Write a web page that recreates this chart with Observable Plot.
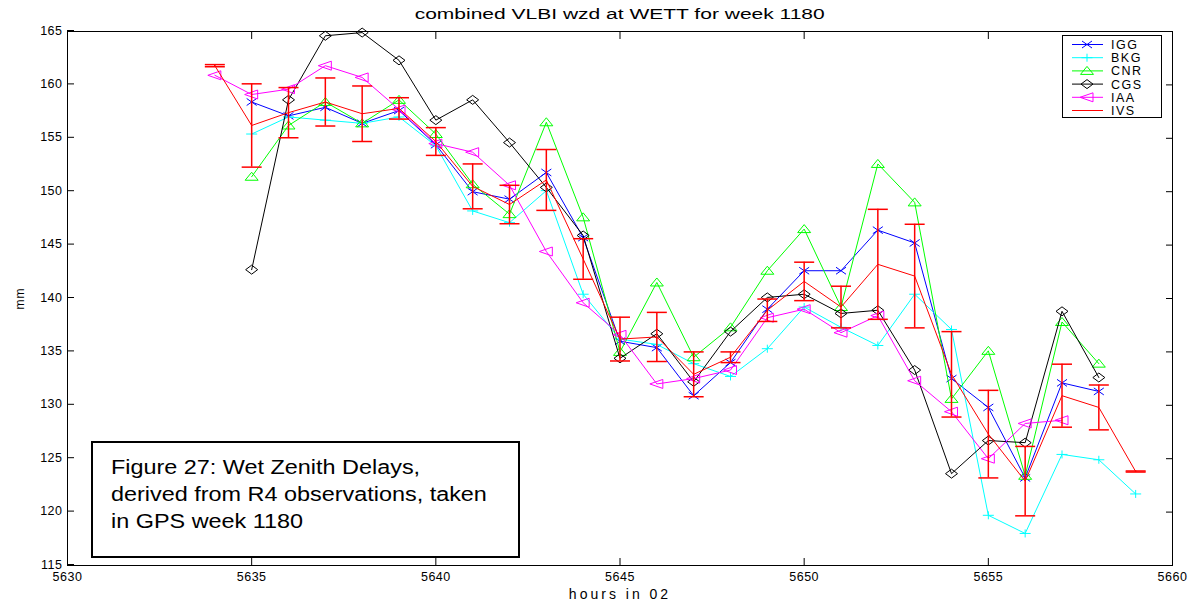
<!DOCTYPE html>
<html><head><meta charset="utf-8">
<script src="https://cdn.jsdelivr.net/npm/d3@7"></script>
<script src="https://cdn.jsdelivr.net/npm/@observablehq/plot@0.6"></script>
<style>
body{margin:0;background:#fff;font-family:"Liberation Sans",Arial,sans-serif;}
#wrap{position:relative;width:1192px;height:601px;overflow:hidden;}
#title{position:absolute;left:67px;width:1105px;top:6px;text-align:center;font-size:14px;color:#000;}
#title span{display:inline-block;transform:scaleX(1.5);transform-origin:center;}
#caption{position:absolute;left:91px;top:441px;width:407px;height:102px;border:2px solid #000;background:#fff;padding:11px 0 0 18px;color:#000;}
#caption div{font-size:19.5px;line-height:27px;transform:scaleX(1.2);transform-origin:left top;white-space:nowrap;}
#legend{position:absolute;left:1062px;top:35px;}
</style>
</head><body>
<div id="wrap">
<div id="plot"></div>
<div id="title"><span>combined VLBI wzd at WETT for week 1180</span></div>
<div id="caption"><div>Figure 27: Wet Zenith Delays,<br>derived from R4 observations, taken<br>in GPS week 1180</div></div>
<div id="legend"></div>
</div>
<script>
// ---- data ----
const hours = [5634,5635,5636,5637,5638,5639,5640,5641,5642,5643,5644,5645,5646,5647,5648,5649,5650,5651,5652,5653,5654,5655,5656,5657,5658,5659];
const igg = [null,158.4,157.1,157.9,156.4,157.6,154.4,150.0,149.3,151.8,145.7,136.0,135.4,130.9,134.0,139.0,142.6,142.6,146.4,145.2,132.5,129.8,123.2,132.1,131.3,null];
const bkg = [null,155.4,157.0,156.7,156.4,157.0,154.3,148.2,147.1,150.1,140.4,136.2,135.7,133.9,132.7,135.3,139.2,137.3,135.6,140.4,137.1,119.7,118.0,125.4,124.9,121.7];
const cnr = [null,151.4,156.2,158.4,156.4,158.6,155.4,150.7,147.9,156.5,147.6,135.0,141.5,134.5,137.3,142.6,146.5,139.2,152.6,149.0,130.6,135.1,123.4,137.8,133.9,null];
const cgs = [null,142.7,158.6,164.6,164.9,162.3,156.7,158.6,154.6,150.4,145.9,134.4,136.7,132.2,136.9,140.1,140.4,138.6,138.9,133.3,123.6,126.7,126.5,138.8,132.6,null];
const iaa = [160.9,159.1,159.6,161.8,160.7,157.7,154.5,153.7,150.6,144.4,139.6,136.6,132.0,132.5,133.3,138.2,139.0,136.8,138.4,132.3,129.4,125.0,128.3,128.6,null,null];
const ivs = [161.8,156.2,157.4,158.4,157.3,157.8,154.7,150.5,148.8,151.1,143.7,136.2,136.4,132.9,134.5,138.9,141.6,139.2,143.2,142.1,132.9,127.3,122.9,130.9,129.8,123.8];
const ivsErr = [0.1,3.9,2.35,2.25,2.6,1.0,1.3,2.1,1.8,2.85,1.9,2.05,2.3,2.1,0.5,1.05,1.8,1.95,5.15,4.85,4.0,4.1,3.25,2.95,2.1,0.05];
const seriesNames = ["IGG","BKG","CNR","CGS","IAA","IVS"];
const xTicks = [5630,5635,5640,5645,5650,5655,5660];
const yTicks = [115,120,125,130,135,140,145,150,155,160,165];

// ---- marker shapes (slightly wide, as in the reference) ----
const mk = fn => ({draw(ctx, size){ fn(ctx, Math.sqrt(size/Math.PI)/4); }});
const symTimes = mk((c,k)=>{ c.moveTo(-5*k,-3.5*k); c.lineTo(5*k,3.5*k); c.moveTo(-5*k,3.5*k); c.lineTo(5*k,-3.5*k); });
const symPlus = mk((c,k)=>{ c.moveTo(-5.5*k,0); c.lineTo(5.5*k,0); c.moveTo(0,-4*k); c.lineTo(0,4*k); });
const symTriUp = mk((c,k)=>{ c.moveTo(0,-4.5*k); c.lineTo(6.5*k,3.5*k); c.lineTo(-6.5*k,3.5*k); c.closePath(); });
const symDiamond = mk((c,k)=>{ c.moveTo(0,-4.5*k); c.lineTo(6*k,0); c.lineTo(0,4.5*k); c.lineTo(-6*k,0); c.closePath(); });
const symTriLeft = mk((c,k)=>{ c.moveTo(-7*k,0); c.lineTo(6*k,-4.5*k); c.lineTo(6*k,4.5*k); c.closePath(); });
const capSym = {draw(ctx, size){ const s = Math.sqrt(size/Math.PI); ctx.moveTo(-s,0); ctx.lineTo(s,0); }};
const styles = {
  IGG:{color:"#0000ff", symbol:symTimes},
  BKG:{color:"#00ffff", symbol:symPlus},
  CNR:{color:"#00ff00", symbol:symTriUp},
  CGS:{color:"#000000", symbol:symDiamond},
  IAA:{color:"#ff00ff", symbol:symTriLeft},
  IVS:{color:"#ff0000", symbol:null}
};
const valuesBy = {IGG:igg, BKG:bkg, CNR:cnr, CGS:cgs, IAA:iaa, IVS:ivs};
const rows = name => hours.map((h,i)=>({hour:h, value:valuesBy[name][i], err: name==="IVS" ? ivsErr[i] : 0})).filter(d=>d.value!=null);

const marks = [];
for (const name of seriesNames) {
  const st = styles[name];
  const data = rows(name);
  if (name === "IVS") {
    marks.push(Plot.ruleX(data, {x:"hour", y1:d=>d.value-d.err, y2:d=>d.value+d.err, stroke:st.color, strokeWidth:1.5}));
    marks.push(Plot.dot(data, {x:"hour", y:d=>d.value+d.err, symbol:capSym, r:10, stroke:st.color, strokeWidth:1.5, fill:"none"}));
    marks.push(Plot.dot(data, {x:"hour", y:d=>d.value-d.err, symbol:capSym, r:10, stroke:st.color, strokeWidth:1.5, fill:"none"}));
    marks.push(Plot.line(data, {x:"hour", y:"value", stroke:st.color, strokeWidth:1}));
  } else {
    marks.push(Plot.line(data, {x:"hour", y:"value", stroke:st.color, strokeWidth:1}));
    marks.push(Plot.dot(data, {x:"hour", y:"value", symbol:st.symbol, r:4, stroke:st.color, strokeWidth:1, fill:"none"}));
  }
}

const fmt = d => String(d);
const chart = Plot.plot({
  width:1192, height:601,
  marginLeft:67, marginRight:20, marginTop:31, marginBottom:36,
  style:{fontFamily:"'Liberation Sans', Arial, sans-serif", fontSize:"12px", background:"#fff", color:"#000"},
  x:{domain:[5630,5660]},
  y:{domain:[115,165]},
  marks:[
    ...marks,
    Plot.frame({stroke:"#000", strokeWidth:1}),
    Plot.axisX({anchor:"bottom", ticks:xTicks, tickSize:-7, tickPadding:14, tickFormat:fmt, label:"hours in 02", labelAnchor:"center", labelOffset:33, labelArrow:"none"}),
    Plot.axisX({anchor:"top", ticks:xTicks, tickSize:-7, tickFormat:()=>"", label:null}),
    Plot.axisY({anchor:"left", ticks:yTicks, tickSize:-7, tickPadding:12, tickFormat:fmt, dy:-1, label:"mm", labelAnchor:"center", labelOffset:52, labelArrow:"none"}),
    Plot.axisY({anchor:"right", ticks:yTicks, tickSize:-7, tickFormat:()=>"", label:null})
  ]
});
d3.select(chart).selectAll('g[aria-label="x-axis tick label"], g[aria-label="y-axis tick label"]').attr("font-size", null).style("font-size","12.5px").style("letter-spacing","0.5px");
d3.select(chart).selectAll('g[aria-label="x-axis label"]').attr("font-size", null).style("font-size","14px").style("letter-spacing","3px");
d3.select(chart).selectAll('g[aria-label="y-axis label"]').attr("font-size", null).style("font-size","12px").style("letter-spacing","1px");
document.getElementById("plot").appendChild(chart);

// ---- legend ----
const W = 99, H = 82;
const leg = d3.select("#legend").append("svg").attr("width", W+1).attr("height", H+1);
leg.append("rect").attr("x",0.5).attr("y",0.5).attr("width",W).attr("height",H).attr("fill","#fff").attr("stroke","#000");
seriesNames.forEach((name,i)=>{
  const st = styles[name];
  const y = 9.5 + i*13.2;
  leg.append("line").attr("x1",10).attr("x2",41).attr("y1",y).attr("y2",y).attr("stroke",st.color).attr("stroke-width",1);
  if (st.symbol) leg.append("path").attr("d", d3.symbol(st.symbol, Math.PI*16)()).attr("transform",`translate(25,${y})`).attr("fill","none").attr("stroke",st.color);
  leg.append("text").attr("x",49).attr("y",y).attr("dy","0.36em").attr("font-size",12.5).attr("letter-spacing","1.5px").attr("font-family","'Liberation Sans', Arial, sans-serif").text(name);
});
</script>
</body></html>
